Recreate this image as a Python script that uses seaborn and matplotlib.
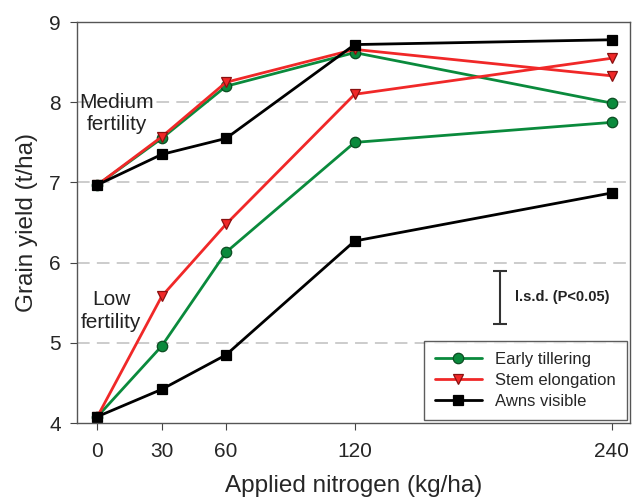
import pandas as pd
import matplotlib.pyplot as plt
import seaborn as sns

# nitrogen rates (kg/ha)
nitrogen = [0, 30, 60, 120, 240]

# grain yield (t/ha), medium fertility
med_early = [6.97, 7.55, 8.20, 8.62, 7.99]
med_stem = [6.97, 7.57, 8.25, 8.66, 8.33]
med_awns = [6.97, 7.35, 7.55, 8.72, 8.78]

# grain yield (t/ha), low fertility
low_early = [4.08, 4.96, 6.13, 7.50, 7.75]
low_stem = [4.08, 5.58, 6.48, 8.10, 8.55]
low_awns = [4.08, 4.42, 4.85, 6.27, 6.87]

stages = ['Early tillering', 'Stem elongation', 'Awns visible']
colors = ['#0a8a3c', '#f02828', '#000000']
edges = ['#0b4d22', '#8a1010', '#000000']
markers = ['o', 'v', 's']

rows = []
for fert, series in [('Medium', [med_early, med_stem, med_awns]),
                     ('Low', [low_early, low_stem, low_awns])]:
    for stage, vals in zip(stages, series):
        for n, v in zip(nitrogen, vals):
            rows.append({'N': n, 'yield': v, 'stage': stage, 'fertility': fert})
df = pd.DataFrame(rows)

sns.set_style('ticks')
plt.rcParams['font.family'] = ['Liberation Sans', 'DejaVu Sans']

fig = plt.figure(figsize=(6.35, 5.03), dpi=100)
ax = fig.add_axes([0.122, 0.159, 0.870, 0.797])

for y in [5, 6, 7, 8]:
    ax.axhline(y, color='#c8c8c8', lw=1.3, ls=(0, (7, 4)), zorder=0)

for stage, c, ec, m in zip(stages, colors, edges, markers):
    for fert in ['Medium', 'Low']:
        sub = df[(df.stage == stage) & (df.fertility == fert)]
        sns.lineplot(data=sub, x='N', y='yield', ax=ax, color=c, lw=2.0,
                     marker=m, markersize=7.5, markeredgecolor=ec,
                     markeredgewidth=0.9, label=stage if fert == 'Low' else None)

ax.set_xlim(-9.3, 248.4)
ax.set_ylim(4, 9)
ax.set_xticks(nitrogen)
ax.set_yticks([4, 5, 6, 7, 8, 9])
ax.tick_params(labelsize=15, direction='out', length=5, color='#444444')
ax.tick_params(axis='x', pad=9)
ax.tick_params(axis='y', pad=7)
for s in ax.spines.values():
    s.set_color('#555555')
    s.set_linewidth(1.0)

ax.set_xlabel('Applied nitrogen (kg/ha)', fontsize=17.5, labelpad=10)
ax.set_ylabel('Grain yield (t/ha)', fontsize=17.5, labelpad=8)

ax.text(9, 7.86, 'Medium\nfertility', fontsize=15, ha='center', va='center',
        linespacing=1.25, color='#222222')
ax.text(6.5, 5.4, 'Low\nfertility', fontsize=15, ha='center', va='center',
        linespacing=1.25, color='#222222')

# l.s.d. bar
ax.errorbar([188], [5.57], yerr=[0.33], color='#333333', capsize=5, lw=1.5, capthick=1.5)
ax.text(195, 5.57, 'l.s.d. (P<0.05)', fontsize=10.5, fontweight='bold',
        ha='left', va='center', color='#222222')

leg = ax.legend(loc='lower right', fontsize=12, frameon=True, fancybox=False,
                borderpad=0.65, labelspacing=0.35, handlelength=2.8,
                borderaxespad=0.2)
leg.get_frame().set_edgecolor('#333333')
leg.get_frame().set_linewidth(1.0)

plt.savefig('out.png', dpi=100)
